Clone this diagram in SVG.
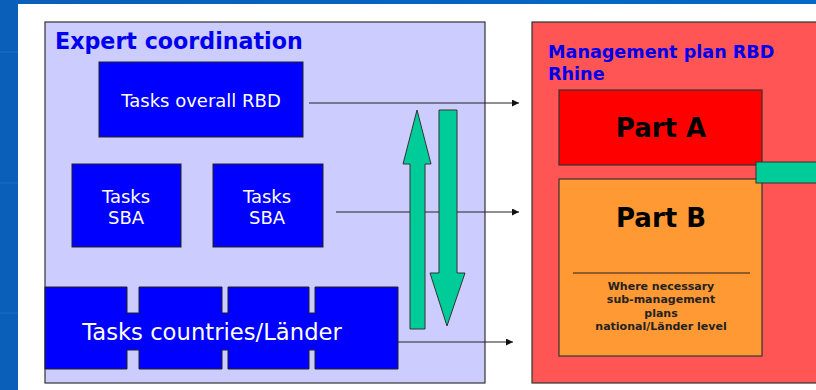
<svg xmlns="http://www.w3.org/2000/svg" width="816" height="390" viewBox="0 0 816 390">
  <defs>
    <linearGradient id="bg" x1="0" y1="0" x2="1" y2="0">
      <stop offset="0" stop-color="#0a5fb8"/>
      <stop offset="1" stop-color="#0368c8"/>
    </linearGradient>
    <marker id="ah" viewBox="0 0 10 10" refX="10" refY="5" markerWidth="8" markerHeight="7" markerUnits="userSpaceOnUse" orient="auto">
      <path d="M0,0 L10,5 L0,10 Z" fill="#111"/>
    </marker>
    <style>
      .panel { stroke: #333; stroke-width: 1.2; }
      .task { fill: #0000ff; stroke: #222; stroke-width: 1; }
      .wt { fill: #ffffff; font-family: "DejaVu Sans", Verdana, sans-serif; font-size: 18px; text-anchor: middle; }
      .big { font-size: 22.7px; }
      .title { fill: #0000ee; font-family: "DejaVu Sans", Verdana, sans-serif; font-weight: bold; }
      .part { font-family: "DejaVu Sans", Verdana, sans-serif; font-weight: bold; font-size: 26px; fill: #000; text-anchor: middle; }
      .small { font-family: "DejaVu Sans", Verdana, sans-serif; font-weight: bold; font-size: 11px; fill: #222; text-anchor: middle; }
      .green { fill: #00cc99; stroke: #333; stroke-width: 1; }
      .conn { stroke: #222; stroke-width: 1.2; fill: none; marker-end: url(#ah); }
    </style>
  </defs>

  <!-- background -->
  <rect x="0" y="0" width="816" height="390" fill="url(#bg)"/>
  <rect x="18" y="4" width="798" height="386" fill="#ffffff"/>
  <g stroke="#2a7ad6" stroke-width="1" opacity="0.6">
    <line x1="0" y1="52" x2="18" y2="52"/>
    <line x1="0" y1="183" x2="18" y2="183"/>
    <line x1="0" y1="313" x2="18" y2="313"/>
  </g>

  <!-- Expert coordination panel -->
  <g id="expert-coordination">
    <rect class="panel" x="45" y="22" width="440" height="361" fill="#ccccff"/>
    <text class="title" x="55" y="49" font-size="22.2">Expert coordination</text>
  </g>

  <g id="tasks-overall">
    <rect class="task" x="99" y="62" width="204" height="75"/>
    <text class="wt" x="201" y="107">Tasks overall RBD</text>
  </g>

  <g id="tasks-sba-1">
    <rect class="task" x="72" y="164" width="109" height="83"/>
    <text class="wt" x="126" y="203">Tasks</text>
    <text class="wt" x="126" y="224">SBA</text>
  </g>

  <g id="tasks-sba-2">
    <rect class="task" x="213" y="164" width="110" height="83"/>
    <text class="wt" x="267" y="203">Tasks</text>
    <text class="wt" x="267" y="224">SBA</text>
  </g>

  <g id="tasks-countries">
    <path class="task" d="M45,287 H127 V313 H139 V287 H222 V313 H228 V287 H309 V313 H315 V287 H398 V369 H315 V350 H309 V369 H228 V350 H222 V369 H139 V350 H127 V369 H45 Z"/>
    <text class="wt big" x="212" y="340">Tasks countries/Länder</text>
  </g>

  <!-- Management plan panel -->
  <g id="management-plan">
    <rect class="panel" x="532" y="22" width="290" height="361" fill="#ff5555"/>
    <text class="title" x="548" y="58" font-size="17.6">Management plan RBD</text>
    <text class="title" x="548" y="80" font-size="17.6">Rhine</text>
  </g>

  <g id="part-a">
    <rect class="panel" x="559" y="90" width="203" height="75" fill="#ff0000"/>
    <text class="part" x="661" y="137">Part A</text>
  </g>

  <g id="part-b">
    <rect class="panel" x="559" y="179" width="203" height="177" fill="#ff9933"/>
    <text class="part" x="661" y="227">Part B</text>
    <line x1="573" y1="273" x2="750" y2="273" stroke="#222" stroke-width="1.2"/>
    <text class="small" x="661" y="290">Where necessary</text>
    <text class="small" x="661" y="303">sub-management</text>
    <text class="small" x="661" y="317">plans</text>
    <text class="small" x="661" y="330">national/Länder level</text>
  </g>

  <g id="green-tab">
    <rect class="green" x="756" y="162" width="64" height="21"/>
  </g>

  <!-- connectors -->
  <g id="connectors">
    <line class="conn" x1="309" y1="103" x2="519" y2="103" stroke="#555"/>
    <line class="conn" x1="336" y1="212" x2="519" y2="212"/>
    <line class="conn" x1="398" y1="342" x2="513" y2="342"/>
    <path class="green" d="M417,110 L431,164 L425,164 L425,329 L410,329 L410,164 L403,164 Z"/>
    <path class="green" d="M439,110 L457,110 L457,273 L465,273 L447,326 L430,273 L439,273 Z"/>
  </g>
</svg>
